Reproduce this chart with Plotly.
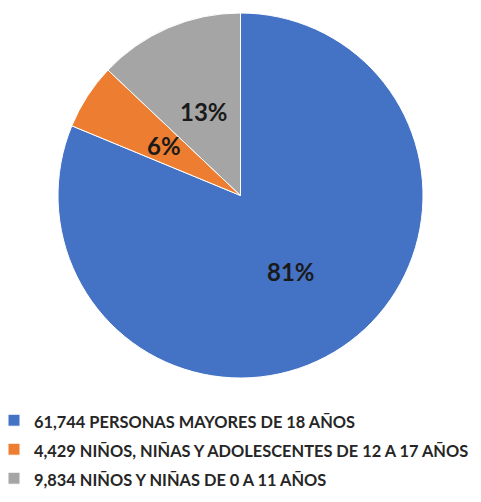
import math
import plotly.graph_objects as go

labels = ["61,744 PERSONAS MAYORES DE 18 AÑOS",
          "4,429 NIÑOS, NIÑAS Y ADOLESCENTES DE 12 A 17 AÑOS",
          "9,834 NIÑOS Y NIÑAS DE 0 A 11 AÑOS"]
values = [61744, 4429, 9834]
colors = ["#4472C4", "#ED7D31", "#A5A5A5"]

W, H = 481, 502
# pie geometry (figure pixels)
cx, cy, r = 232.5, 187.5, 182.5
dom_x = [(cx - r) / W, (cx + r) / W]
dom_y = [1 - (cy + r) / H, 1 - (cy - r) / H]

fig = go.Figure(go.Pie(
    labels=[f'<span style="font-size:16.4px">{l}</span>' for l in labels],
    values=values, sort=False, direction="clockwise", rotation=0,
    marker=dict(colors=colors, line=dict(color="white", width=1)),
    textinfo="none", hoverinfo="label+percent",
    domain=dict(x=dom_x, y=dom_y),
))

# percentage labels at half radius along each slice's middle angle
total = sum(values)
cum = 0
annotations = []
for v in values:
    mid = (cum + v / 2) / total * 2 * math.pi
    cum += v
    px = cx + 0.5 * r * math.sin(mid)
    py = cy - 0.5 * r * math.cos(mid)
    annotations.append(dict(
        x=px / W, y=1 - py / H, xref="paper", yref="paper",
        xanchor="center", yanchor="middle",
        text=f"{round(v / total * 100)}%", showarrow=False,
        font=dict(family="Lato", size=24, color="#1a1a1a", weight="bold"),
    ))

fig.update_layout(
    width=W, height=H, margin=dict(l=0, r=0, t=0, b=0),
    paper_bgcolor="white", plot_bgcolor="white",
    showlegend=True, annotations=annotations,
    legend=dict(x=0, y=0.2177, xanchor="left", yanchor="top", orientation="v",
                indentation=-14,
                font=dict(family="Lato", size=20, color="#262626", weight="bold"),
                itemwidth=30),
)
fig.write_html("out.html")
